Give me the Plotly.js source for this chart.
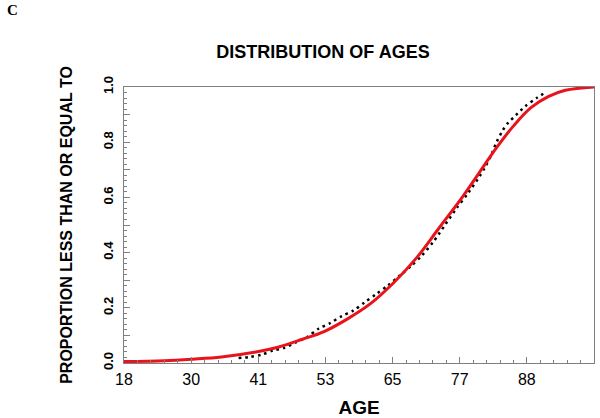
<!DOCTYPE html>
<html>
<head>
<meta charset="utf-8">
<script src="https://cdn.plot.ly/plotly-3.0.1.min.js"></script>
<style>
  html, body { margin: 0; padding: 0; background: #fff; }
  #plot { width: 600px; height: 418px; }
</style>
</head>
<body>
<div id="plot"></div>
<script>
// fitted curve (red)
let fitAge = [18, 25, 30, 35, 41, 45, 49, 53, 57, 61, 65, 69, 73, 77, 80, 83, 86, 89, 92, 95, 100];
let fitProp = [0.005, 0.008, 0.014, 0.022, 0.04, 0.058, 0.085, 0.115, 0.16, 0.215, 0.29, 0.38, 0.49, 0.60, 0.69, 0.78, 0.86, 0.925, 0.965, 0.988, 1.0];

// empirical curve (black dots)
let empAge = [38, 40, 42, 44, 46, 48, 50, 52, 54, 56, 58, 60, 62, 64, 66, 68, 70, 72, 74, 76, 78, 80, 81, 82, 83, 84, 85, 86, 88, 90, 91.5];
let empProp = [0.018, 0.022, 0.03, 0.045, 0.055, 0.075, 0.095, 0.125, 0.145, 0.17, 0.19, 0.22, 0.25, 0.28, 0.315, 0.35, 0.39, 0.44, 0.50, 0.56, 0.615, 0.675, 0.71, 0.75, 0.80, 0.84, 0.87, 0.89, 0.93, 0.96, 0.98];

// tick labels
let xTickText = ['18', '30', '41', '53', '65', '77', '88'];
let yTickText = ['0.0', '', '0.2', '', '0.4', '', '0.6', '', '0.8', '', '1.0'];

let xTickVals = [];
for (let i = 0; i < xTickText.length; i++) {
    xTickVals.push(18 + i * 82 / 7);
}
let yTickVals = [];
for (let i = 0; i < yTickText.length; i++) {
    yTickVals.push(i / 10);
}

let trace1 = {
    x: empAge,
    y: empProp,
    type: 'scatter',
    mode: 'lines',
    line: {color: '#000', width: 2.5, dash: '2.5px,4px', shape: 'spline', smoothing: 0.8},
    hoverinfo: 'skip'
};

let trace2 = {
    x: fitAge,
    y: fitProp,
    type: 'scatter',
    mode: 'lines',
    line: {color: '#e8141c', width: 3, shape: 'spline'},
    hoverinfo: 'skip'
};

let axisGray = '#808080';

let layout = {
    width: 600,
    height: 418,
    showlegend: false,
    paper_bgcolor: '#fff',
    plot_bgcolor: '#fff',
    margin: {l: 124, r: 6, t: 87, b: 55},
    font: {family: 'Arial, Liberation Sans, sans-serif', color: '#000'},
    title: {
        text: 'DISTRIBUTION OF AGES',
        font: {size: 18, weight: 'bold'},
        x: 323 / 600, xanchor: 'center',
        y: 1 - 52 / 418, yanchor: 'middle'
    },
    xaxis: {
        range: [18, 100],
        showgrid: false,
        zeroline: false,
        showline: true, linecolor: axisGray, linewidth: 1, mirror: true,
        tickmode: 'array', tickvals: xTickVals, ticktext: xTickText,
        ticks: 'inside', ticklen: 6, tickcolor: axisGray,
        ticklabelstandoff: 2,
        tickfont: {size: 16},
        minor: {tick0: 18, dtick: 82 / 35, ticks: 'inside', ticklen: 3, tickcolor: axisGray, showgrid: false},
        title: {text: 'AGE', font: {size: 19, weight: 'bold'}, standoff: 16}
    },
    yaxis: {
        range: [0, 1],
        showgrid: false,
        zeroline: false,
        showline: true, linecolor: axisGray, linewidth: 1, mirror: true,
        tickmode: 'array', tickvals: yTickVals, ticktext: yTickText,
        ticks: 'inside', ticklen: 6, tickcolor: axisGray,
        tickangle: -90,
        ticklabelstandoff: 5,
        tickfont: {size: 13, weight: 'bold'},
        minor: {tick0: 0, dtick: 0.02, ticks: 'inside', ticklen: 3, tickcolor: axisGray, showgrid: false},
        title: {text: 'PROPORTION LESS THAN OR EQUAL TO', font: {size: 16, weight: 'bold'}, standoff: 24}
    },
    annotations: [{
        text: 'C',
        xref: 'paper', yref: 'paper',
        x: (5 - 124) / 470, y: (363 - 10) / 276,
        xanchor: 'left', yanchor: 'middle',
        showarrow: false,
        font: {family: 'Liberation Serif, Times New Roman, serif', size: 15, weight: 'bold'}
    }]
};

Plotly.newPlot('plot', [trace1, trace2], layout, {staticPlot: true});
</script>
</body>
</html>
